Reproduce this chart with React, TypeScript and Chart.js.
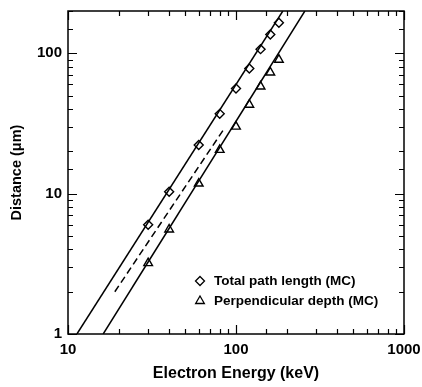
import React, { useEffect, useRef } from 'react';
import { Chart, registerables } from 'chart.js';

Chart.register(...registerables);

// Monte Carlo points
const energyTotal = [30, 40, 60, 80, 100, 120, 140, 160, 180];
const totalPath = [6.0, 10.3, 22.2, 37, 56, 78, 107, 136, 165];
const energyPerp = [30, 40, 60, 80, 100, 120, 140, 160, 180];
const perpDepth = [3.2, 5.55, 11.8, 20.5, 30, 43, 58, 73, 90];

// Fitted / reference lines (endpoints)
const upperFitE = [11.3, 190];
const upperFitD = [1, 200];
const lowerFitE = [16.2, 257];
const lowerFitD = [1, 200];
const dashFitE = [19, 85];
const dashFitD = [2, 29];

const xTickLabels = [10, 100, 1000];
const yTickLabels = [1, 10, 100];

const legendLabels = ['Total path length (MC)', 'Perpendicular depth (MC)'];

const FONT = '"Liberation Sans", Arial, Helvetica, sans-serif';

const zip = (xs: number[], ys: number[]) => xs.map((x, i) => ({ x, y: ys[i] }));

const isPow10 = (v: number) => {
  const l = Math.log10(v);
  return Math.abs(l - Math.round(l)) < 1e-9;
};

const frameTicks = {
  id: 'frameTicks',
  afterDraw(chart: any) {
    const { ctx, chartArea: a } = chart;
    const xs = chart.scales.x;
    const ys = chart.scales.y;
    ctx.save();
    ctx.strokeStyle = '#000';
    ctx.lineWidth = 1.5;
    ctx.strokeRect(a.left, a.top, a.right - a.left, a.bottom - a.top);
    ctx.lineWidth = 1.2;
    ctx.beginPath();
    xs.ticks.forEach((t: any) => {
      const p = Math.round(xs.getPixelForValue(t.value)) + 0.5;
      const len = isPow10(t.value) ? 9 : 5;
      ctx.moveTo(p, a.bottom);
      ctx.lineTo(p, a.bottom - len);
      ctx.moveTo(p, a.top);
      ctx.lineTo(p, a.top + len);
    });
    ys.ticks.forEach((t: any) => {
      const p = Math.round(ys.getPixelForValue(t.value)) + 0.5;
      const len = isPow10(t.value) ? 9 : 5;
      ctx.moveTo(a.left, p);
      ctx.lineTo(a.left + len, p);
      ctx.moveTo(a.right, p);
      ctx.lineTo(a.right - len, p);
    });
    ctx.stroke();

    // legend inside plot area
    const lx = a.left + 132;
    const ly0 = a.top + 270;
    const dy = 20;
    ctx.lineWidth = 1.3;
    // diamond
    ctx.beginPath();
    const r = 4.5;
    ctx.moveTo(lx, ly0 - r);
    ctx.lineTo(lx + r, ly0);
    ctx.lineTo(lx, ly0 + r);
    ctx.lineTo(lx - r, ly0);
    ctx.closePath();
    ctx.fillStyle = '#fff';
    ctx.fill();
    ctx.stroke();
    // triangle
    const ty = ly0 + dy;
    const tr = 5;
    ctx.beginPath();
    ctx.moveTo(lx, ty - tr);
    ctx.lineTo(lx + tr * 0.866, ty + tr * 0.5);
    ctx.lineTo(lx - tr * 0.866, ty + tr * 0.5);
    ctx.closePath();
    ctx.fill();
    ctx.stroke();
    ctx.fillStyle = '#000';
    ctx.font = `bold 13.5px ${FONT}`;
    ctx.textBaseline = 'middle';
    ctx.textAlign = 'left';
    ctx.fillText(legendLabels[0], lx + 14, ly0);
    ctx.fillText(legendLabels[1], lx + 14, ty);
    ctx.restore();
  },
};

export default function App() {
  const ref = useRef<HTMLCanvasElement | null>(null);
  useEffect(() => {
    document.body.style.margin = '0';
    const lineBase = {
      type: 'line' as const,
      showLine: true,
      borderColor: '#000',
      borderWidth: 1.5,
      pointRadius: 0,
      fill: false,
    };
    const chart = new Chart(ref.current as HTMLCanvasElement, {
      type: 'scatter',
      data: {
        datasets: [
          { ...lineBase, label: 'upper', data: zip(upperFitE, upperFitD) },
          { ...lineBase, label: 'lower', data: zip(lowerFitE, lowerFitD) },
          { ...lineBase, label: 'dashed', borderDash: [7, 4], data: zip(dashFitE, dashFitD) },
          {
            label: legendLabels[0],
            data: zip(energyTotal, totalPath),
            pointStyle: 'rectRot',
            pointRadius: 4.5,
            pointBackgroundColor: '#fff',
            pointBorderColor: '#000',
            pointBorderWidth: 1.4,
            showLine: false,
          },
          {
            label: legendLabels[1],
            data: zip(energyPerp, perpDepth),
            pointStyle: 'triangle',
            pointRadius: 5,
            pointBackgroundColor: '#fff',
            pointBorderColor: '#000',
            pointBorderWidth: 1.4,
            showLine: false,
          },
        ] as any,
      },
      options: {
        animation: false,
        responsive: false,
        maintainAspectRatio: false,
        layout: { padding: { top: 11, right: 18, left: 0, bottom: 0 } },
        plugins: { legend: { display: false }, tooltip: { enabled: false } },
        scales: {
          x: {
            type: 'logarithmic',
            min: 10,
            max: 1000,
            grid: { drawOnChartArea: false, drawTicks: false },
            border: { display: false },
            ticks: {
              autoSkip: false,
              maxRotation: 0,
              padding: 7,
              color: '#000',
              font: { family: FONT, size: 15, weight: 'bold' },
              callback: (v: any) => (xTickLabels.includes(Number(v)) ? String(v) : ''),
            },
            title: {
              display: true,
              text: 'Electron Energy (keV)',
              color: '#000',
              font: { family: FONT, size: 16, weight: 'bold' },
              padding: { top: 0, bottom: 4 },
            },
            afterFit: (s: any) => {
              s.height = 53;
              s.paddingLeft = 0;
              s.paddingRight = 0;
            },
          },
          y: {
            type: 'logarithmic',
            min: 1,
            max: 200,
            grid: { drawOnChartArea: false, drawTicks: false },
            border: { display: false },
            ticks: {
              autoSkip: false,
              padding: 6,
              color: '#000',
              font: { family: FONT, size: 15, weight: 'bold' },
              callback: (v: any) => (yTickLabels.includes(Number(v)) ? String(v) : ''),
            },
            title: {
              display: true,
              text: 'Distance (μm)',
              color: '#000',
              font: { family: FONT, size: 14.5, weight: 'bold' },
              padding: { top: 8, bottom: 0 },
            },
            afterFit: (s: any) => {
              s.width = 68;
              s.paddingTop = 0;
              s.paddingBottom = 0;
            },
          },
        },
      } as any,
      plugins: [frameTicks],
    });
    return () => chart.destroy();
  }, []);
  return (
    <div style={{ width: 422, height: 387 }}>
      <canvas ref={ref} width={422} height={387} style={{ display: 'block' }} />
    </div>
  );
}
